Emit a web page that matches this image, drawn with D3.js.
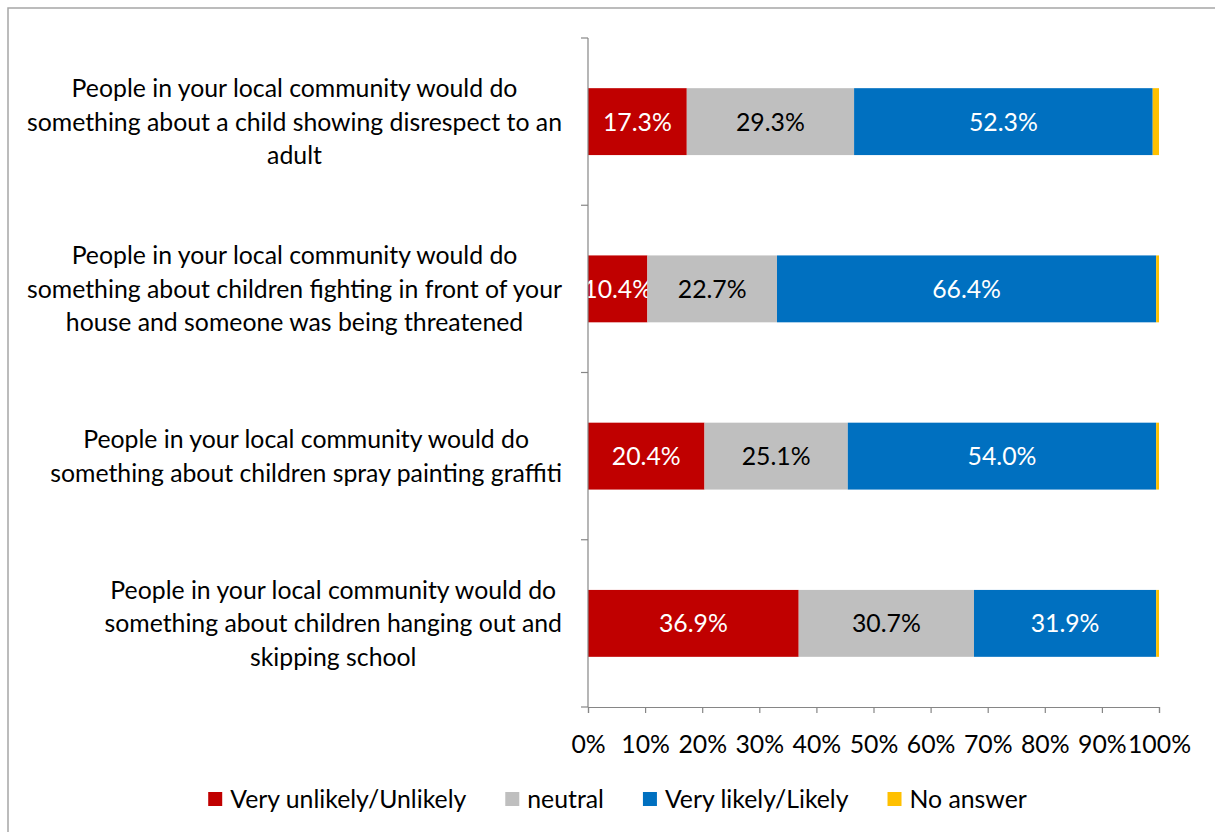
<!DOCTYPE html>
<html><head><meta charset="utf-8">
<script src="https://cdn.jsdelivr.net/npm/d3@7"></script>
<style>body{margin:0;background:#fff}svg{display:block}text{font-family:Lato,"Open Sans",sans-serif}</style>
</head><body>
<svg id="c" width="1215" height="832"></svg>
<script>
const categories = [
  ["People in your local community would do","something about a child showing disrespect to an","adult"],
  ["People in your local community would do","something about children fighting in front of your","house and someone was being threatened"],
  ["People in your local community would do","something about children spray painting graffiti"],
  ["People in your local community would do","something about children hanging out and","skipping school"]
];
const seriesNames = ["Very unlikely/Unlikely","neutral","Very likely/Likely","No answer"];
const unlikely = [17.3,10.4,20.4,36.9];
const neutral  = [29.3,22.7,25.1,30.7];
const likely   = [52.3,66.4,54.0,31.9];
const noAnswer = [1.1,0.5,0.5,0.5];
const xTicks = [0,10,20,30,40,50,60,70,80,90,100];
const colors = ["#C00000","#BFBFBF","#0070C0","#FFC000"];
const labelColors = ["#fff","#000","#fff",null];

const FS = 24.8;
const svg = d3.select("#c");
svg.append("rect").attr("x",8).attr("y",8).attr("width",1300).attr("height",900)
  .attr("fill","#fff").attr("stroke","#a6a6a6").attr("stroke-width",1.5);

const x = d3.scaleLinear().domain([0,100]).range([588,1159]);
const y = d3.scaleBand().domain(d3.range(categories.length)).range([38,707]).paddingInner(0.6).paddingOuter(0.3);

const series = [unlikely, neutral, likely, noAnswer];
const rows = categories.map((c,i)=>{const o={i}; series.forEach((s,k)=>o["s"+k]=s[i]); return o;});
const stack = d3.stack().keys(["s0","s1","s2","s3"])(rows);

const g = svg.append("g");
stack.forEach((layer,k)=>{
  g.selectAll(null).data(layer).enter().append("rect")
    .attr("x",d=>x(d[0])).attr("width",d=>x(d[1])-x(d[0]))
    .attr("y",(d,i)=>y(i)).attr("height",y.bandwidth())
    .attr("fill",colors[k]);
  if(labelColors[k]){
    g.selectAll(null).data(layer).enter().append("text")
      .attr("x",d=>(x(d[0])+x(d[1]))/2).attr("y",(d,i)=>y(i)+y.bandwidth()/2)
      .attr("dy","0.36em").attr("text-anchor","middle").attr("font-size",FS)
      .attr("fill",labelColors[k]).text(d=>(d[1]-d[0]).toFixed(1)+"%");
  }
});

// y axis
const axisColor = "#868686";
svg.append("line").attr("x1",588).attr("x2",588).attr("y1",38).attr("y2",707).attr("stroke",axisColor).attr("stroke-width",1.2);
const bounds = d3.range(categories.length+1).map(k=>y.range()[0]+k*y.step());
svg.selectAll(null).data(bounds).enter().append("line")
  .attr("x1",581).attr("x2",588).attr("y1",d=>d).attr("y2",d=>d).attr("stroke",axisColor).attr("stroke-width",1.2);

// x axis
const xa = svg.append("g").attr("transform","translate(0,707)")
  .call(d3.axisBottom(x).tickValues(xTicks).tickSize(6).tickPadding(22).tickFormat(d=>d+"%"));
xa.select(".domain").attr("stroke",axisColor).attr("stroke-width",1.2);
xa.selectAll(".tick line").attr("stroke",axisColor).attr("stroke-width",1.2);
xa.selectAll(".tick text").attr("font-size",FS).attr("fill","#000").attr("font-family","Lato");

// category labels
const lh = 33.5;
categories.forEach((lines,i)=>{
  const cy = y(i)+y.bandwidth()/2;
  const t = svg.append("g");
  const texts = lines.map((l,j)=>t.append("text").attr("font-size",FS).attr("fill","#000")
      .attr("text-anchor","middle").attr("y",cy+(j-(lines.length-1)/2)*lh).attr("dy","0.36em").text(l));
  const maxW = d3.max(texts,tt=>tt.node().getComputedTextLength());
  texts.forEach(tt=>tt.attr("x",562-maxW/2));
});

// legend
const lg = svg.append("g");
let cx = 0;
seriesNames.forEach((n,k)=>{
  const it = lg.append("g").attr("transform",`translate(${cx},0)`);
  it.append("rect").attr("x",0).attr("y",-7).attr("width",14).attr("height",14).attr("fill",colors[k]);
  const tx = it.append("text").attr("x",22).attr("y",0).attr("dy","0.36em").attr("font-size",FS).attr("fill","#000").text(n);
  const w = 22+tx.node().getComputedTextLength();
  cx += w + 39;
});
const totalW = cx - 39;
lg.attr("transform",`translate(${617.5-totalW/2},799)`);
</script>
</body></html>
